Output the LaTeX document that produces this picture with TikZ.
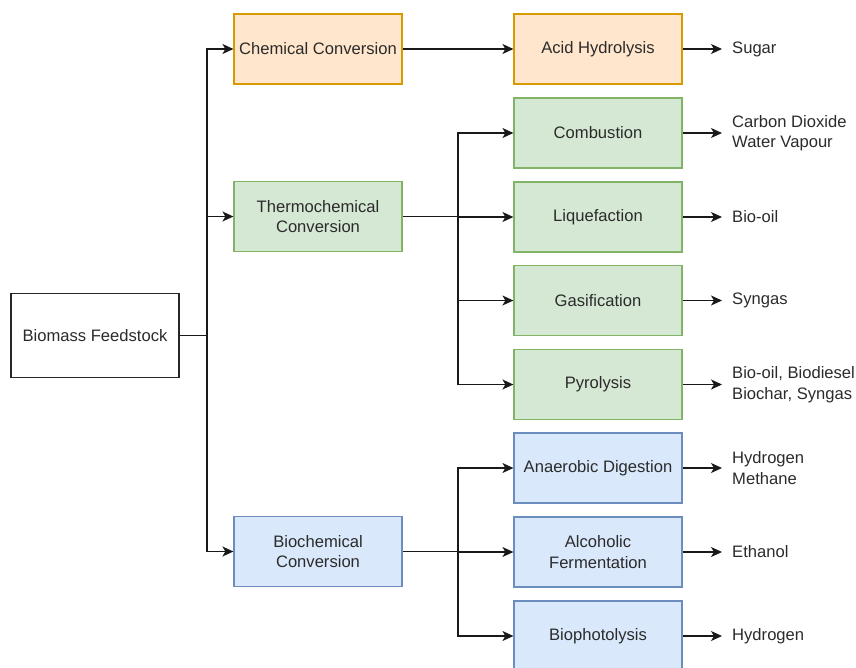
\documentclass[tikz,border=0pt]{standalone}
\usepackage{fontspec}
\setmainfont{Liberation Sans}
\usetikzlibrary{arrows.meta}
\definecolor{orfill}{HTML}{FFE6CC}\definecolor{ordraw}{HTML}{D79B00}
\definecolor{grfill}{HTML}{D5E8D4}\definecolor{grdraw}{HTML}{82B366}
\definecolor{blfill}{HTML}{DAE8FC}\definecolor{bldraw}{HTML}{6C8EBF}
\definecolor{txt}{HTML}{2B2B2B}
\begin{document}
\begin{tikzpicture}[x=1pt,y=-1pt,
  font=\fontsize{16.6}{20.5}\selectfont, text=txt,
  box/.style={minimum width=168pt,minimum height=70pt,inner sep=0pt,align=center,line width=1.2pt},
  orbox/.style={box,fill=orfill,draw=ordraw},
  grbox/.style={box,fill=grfill,draw=grdraw},
  blbox/.style={box,fill=blfill,draw=bldraw},
  wbox/.style={box,fill=white,draw=black!85,minimum height=84pt},
  product/.style={anchor=west,align=left,inner sep=0pt},
  link/.style={line width=1.3pt,draw=black!90},
  arr/.style={link,-{Stealth[length=11pt,width=10pt,inset=3pt]}}]
\useasboundingbox (0,0) rectangle (856,667);
% source
\node[wbox] (feed) at (95,335.5) {Biomass Feedstock};
% conversion routes
\node[orbox] (chem) at (318,49) {Chemical Conversion};
\node[grbox] (thermo) at (318,216.5) {Thermochemical\\Conversion};
\node[blbox] (bio) at (318,551.5) {Biochemical\\Conversion};
% processes
\node[orbox] (acid) at (598,49) {Acid Hydrolysis};
\node[grbox] (comb) at (598,133) {Combustion};
\node[grbox] (liq) at (598,217) {Liquefaction};
\node[grbox] (gas) at (598,300.5) {Gasification};
\node[grbox] (pyr) at (598,384.5) {Pyrolysis};
\node[blbox] (ana) at (598,468) {Anaerobic Digestion};
\node[blbox] (alc) at (598,552) {Alcoholic\\Fermentation};
\node[blbox] (phot) at (598,636) {Biophotolysis};
% products
\node[product] (o1) at (732,49) {Sugar};
\node[product] (o2) at (732,133) {Carbon Dioxide\\Water Vapour};
\node[product] (o3) at (732,217) {Bio-oil};
\node[product] (o4) at (732,300.5) {Syngas};
\node[product] (o5) at (732,384.5) {Bio-oil, Biodiesel\\Biochar, Syngas};
\node[product] (o6) at (732,468) {Hydrogen\\Methane};
\node[product] (o7) at (732,552) {Ethanol};
\node[product] (o8) at (732,636) {Hydrogen};
% junction coordinates
\coordinate (j1) at (207,335.5);
\coordinate (j2) at (458,216.5);
\coordinate (j3) at (458,551.5);
% feedstock to routes
\draw[link] (feed.east) -- (j1);
\draw[arr] (j1) |- (chem.west);
\draw[arr] (j1) |- (thermo.west);
\draw[arr] (j1) |- (bio.west);
% routes to processes
\draw[arr] (chem.east) -- (acid.west);
\draw[link] (thermo.east) -- (j2);
\draw[arr] (j2) |- (comb.west);
\draw[arr] (j2) |- (liq.west);
\draw[arr] (j2) |- (gas.west);
\draw[arr] (j2) |- (pyr.west);
\draw[link] (bio.east) -- (j3);
\draw[arr] (j3) |- (ana.west);
\draw[arr] (j3) |- (alc.west);
\draw[arr] (j3) |- (phot.west);
% processes to products
\foreach \p/\o in {acid/o1,comb/o2,liq/o3,gas/o4,pyr/o5,ana/o6,alc/o7,phot/o8}
  \draw[arr] (\p.east) -- ([xshift=-10pt]\o.west);
\end{tikzpicture}
\end{document}
